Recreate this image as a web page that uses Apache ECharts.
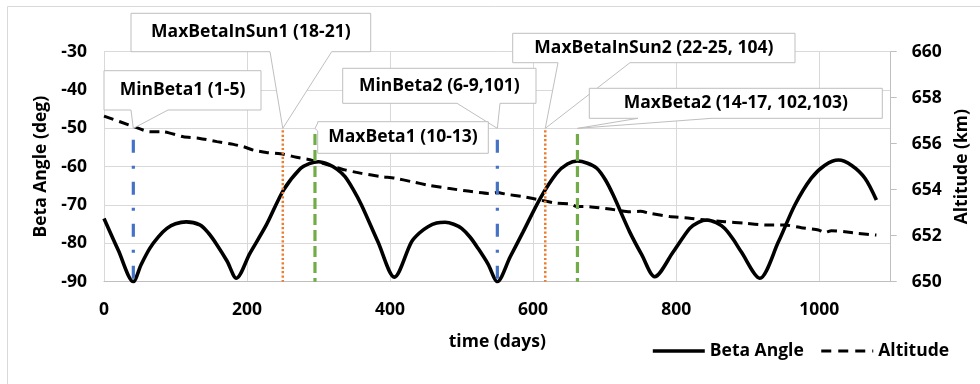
<!DOCTYPE html>
<html><head><meta charset="utf-8">
<script src="https://cdn.jsdelivr.net/npm/echarts@6/dist/echarts.min.js"></script>
<style>html,body{margin:0;padding:0;background:#fff}#c{width:980px;height:384px}</style>
</head><body><div id="c"></div>
<script>
// ---- data ----
const betaDays = [0,20,41,52,64,76,88,100,115,134,146,158,172,185,204,227,251,274,287,300,314,326,337,348,360,383,406,430,441,453,465,477,489,500,512,523,537,550,568,586,610,633,648,662,676,689,701,712,735,752,770,796,819,831,843,856,868,880,891,917,943,966,989,1008,1027,1045,1064,1080];
const betaVals = [-73.5,-81.8,-90,-85.5,-81.3,-78.3,-76.1,-74.9,-74.4,-75.2,-77.3,-80.4,-84.6,-89.1,-82.6,-75.2,-66.1,-60.6,-59.2,-58.7,-59.4,-60.7,-62.6,-65.8,-70,-79.6,-88.8,-79.6,-77.3,-75.65,-74.7,-74.5,-75.0,-76.1,-78.4,-81.3,-85.4,-90,-83.5,-77,-68.25,-61.7,-59.3,-58.5,-59.1,-60.4,-63.4,-67.4,-77,-83,-88.7,-82.2,-76.1,-74.5,-73.9,-74.6,-76.1,-79,-82.2,-89.1,-79.6,-70,-63,-59.6,-58.25,-59.6,-63,-68.7];
const altDays = [0,41,64,83,111,134,158,181,195,209,227,251,269,288,314,337,360,388,407,430,453,481,509,537,550,563,586,610,633,652,661,679,707,735,750,764,791,819,840,868,896,924,951,975,999,1008,1017,1036,1054,1080];
const altVals = [657.2,656.75,656.52,656.52,656.3,656.23,656.09,655.97,655.87,655.72,655.62,655.54,655.41,655.3,655.07,654.86,654.71,654.57,654.5,654.35,654.2,654.06,653.94,653.84,653.88,653.8,653.7,653.55,653.41,653.38,653.27,653.26,653.16,653.04,653.06,652.97,652.83,652.76,652.68,652.61,652.54,652.47,652.47,652.35,652.25,652.14,652.22,652.17,652.1,652.03];
const xTicks = {min:0, max:1100, interval:200};
const yLeft = {min:-90, max:-30, interval:10};
const yRight = {min:650, max:660, interval:2};
const markerDays = [41,250,295,550,617,662];
const markerTop  = [-53,-50.5,-51.5,-53,-50.5,-51.5];
const markerKind = ['min','sun','max','min','sun','max'];
const calloutText = ['MinBeta1 (1-5)','MaxBetaInSun1 (18-21)','MinBeta2 (6-9,101)','MaxBetaInSun2 (22-25, 104)','MaxBeta2 (14-17, 102,103)','MaxBeta1 (10-13)'];
const calloutDay  = [41,250,550,617,662,295];
const calloutTipValue = -50;
// ---- layout of callout boxes (pixels) ----
const calloutLayout = [
  {box:[104,70.7,261,110], side:'bottom', base:[131,168]},
  {box:[131,13.3,370.7,51.7], side:'bottom', base:[270,331.7]},
  {box:[342.7,68.3,536,103.3], side:'bottom', base:[457,500]},
  {box:[512.7,33.3,795,62.7], side:'bottom', base:[558,630]},
  {box:[589.3,88.3,882.3,118.3], side:'bottom', base:[638,712]},
  {box:[317.7,121.7,488.3,153.3], side:'left', base:[123,131]}
];
const FONT = '"Open Sans"';
const FS = 17.5;
const markerStyle = {
  min:{color:'#4472C4', type:[13,13,3,13], width:3.2, cap:'butt'},
  sun:{color:'#ED7D31', type:[2.2,2.2], width:2.5, cap:'butt'},
  max:{color:'#70AD47', type:[11,5], width:3.2, cap:'butt'}
};

const chart = echarts.init(document.getElementById('c'), null, {renderer:'canvas'});
const lbl = {color:'#000', fontFamily:FONT, fontWeight:'bold', fontSize:FS};
const series = [
  {name:'Beta Angle', type:'line', xAxisIndex:0, yAxisIndex:0, data:betaDays.map((d,i)=>[d,betaVals[i]]),
   smooth:0.3, symbol:'none', itemStyle:{color:'#000'}, lineStyle:{color:'#000', width:3.6}, z:3},
  {name:'Altitude', type:'line', xAxisIndex:0, yAxisIndex:1, data:altDays.map((d,i)=>[d,altVals[i]]),
   smooth:0.2, symbol:'none', itemStyle:{color:'#000'}, lineStyle:{color:'#000', width:3, type:[10,6]}, z:3}
];
markerDays.forEach((d,i)=>{
  const s = markerStyle[markerKind[i]];
  series.push({name:'m'+i, type:'line', xAxisIndex:0, yAxisIndex:0, data:[[d,markerTop[i]],[d,yLeft.min]],
    symbol:'none', silent:true, z:4, itemStyle:{color:s.color}, lineStyle:{color:s.color, width:s.width, type:s.type, cap:s.cap}});
});
chart.setOption({
  animation:false,
  backgroundColor:'#fff',
  grid:{left:104, right:89.3, top:51.7, bottom:102.3, containLabel:false, outerBoundsMode:'none'},
  legend:{left:646, top:337, itemWidth:52, itemHeight:14, itemGap:16, textStyle:lbl,
    data:[{name:'Beta Angle', itemStyle:{opacity:0}, lineStyle:{color:'#000', width:3.6, type:'solid'}},
          {name:'Altitude', itemStyle:{opacity:0}, lineStyle:{color:'#000', width:3, type:[10,7]}}]},
  xAxis:[{type:'value', min:xTicks.min, max:xTicks.max, interval:xTicks.interval,
    name:'time (days)', nameLocation:'middle', nameGap:51, nameTextStyle:lbl,
    axisLine:{show:true, onZero:false, lineStyle:{color:'#BFBFBF', width:1}},
    axisTick:{show:false}, axisLabel:Object.assign({margin:19, showMaxLabel:false, formatter:v=>String(v)}, lbl),
    splitLine:{show:true, lineStyle:{color:'#D9D9D9', width:1}}}],
  yAxis:[
    {type:'value', position:'left', min:yLeft.min, max:yLeft.max, interval:yLeft.interval,
     name:'Beta Angle (deg)', nameLocation:'middle', nameRotate:90, nameGap:54, nameTextStyle:lbl,
     axisLine:{show:true, onZero:false, lineStyle:{color:'#D9D9D9', width:1}}, axisTick:{show:false},
     axisLabel:Object.assign({margin:17}, lbl),
     splitLine:{show:true, lineStyle:{color:'#D9D9D9', width:1}}},
    {type:'value', position:'right', min:yRight.min, max:yRight.max, interval:yRight.interval,
     name:'Altitude (km)', nameLocation:'middle', nameRotate:90, nameGap:62, nameTextStyle:lbl,
     axisLine:{show:true, onZero:false, lineStyle:{color:'#BFBFBF', width:1}},
     axisTick:{show:true, inside:false, length:6, lineStyle:{color:'#BFBFBF'}},
     axisLabel:Object.assign({margin:21}, lbl),
     splitLine:{show:false}}
  ],
  series:series
});

// callouts
const graphics = [{type:'rect', shape:{x:7.5, y:6.5, width:1100, height:500}, style:{fill:'none', stroke:'#D9D9D9', lineWidth:1}, z:0, silent:true}];
calloutText.forEach((t,i)=>{
  const L = calloutLayout[i];
  const tip = chart.convertToPixel({xAxisIndex:0, yAxisIndex:0}, [calloutDay[i], calloutTipValue]);
  const [x0,y0,x1,y1] = L.box;
  let pts;
  if (L.side==='bottom') {
    pts = [[x0,y0],[x1,y0],[x1,y1],[L.base[1],y1],tip,[L.base[0],y1],[x0,y1]];
  } else {
    pts = [[x0,y0],[x1,y0],[x1,y1],[x0,y1],[x0,L.base[1]],tip,[x0,L.base[0]]];
  }
  graphics.push({type:'group', z:10+i, silent:true, children:[
    {type:'polygon', shape:{points:pts}, style:{fill:'#fff', stroke:'#BFBFBF', lineWidth:1}, z:10+i},
    {type:'text', x:(x0+x1)/2, y:(y0+y1)/2, z:10+i, style:{text:t, fill:'#000', font:'bold '+FS+'px '+FONT, align:'center', verticalAlign:'middle'}}
  ]});
});
chart.setOption({graphic:graphics});
</script></body></html>
